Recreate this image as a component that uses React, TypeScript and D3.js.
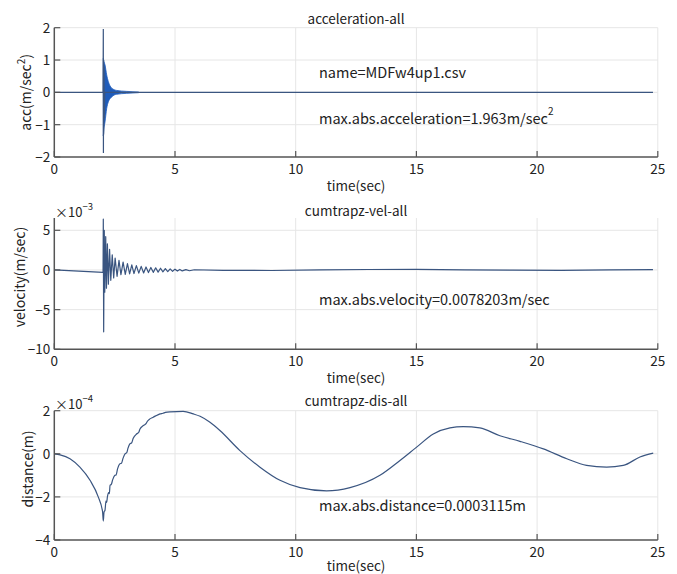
import React from "react";
import * as d3 from "d3";

// ---- data ----
const xTicks = [0, 5, 10, 15, 20, 25];

const accTicks = [-2, -1, 0, 1, 2];
// acceleration trace (m/sec^2): flat line plus the spike at ~2.03 s
const accTrace: [number, number][] = [
  [0, 0], [2.02, 0], [2.03, 1.96], [2.035, -1.88], [2.04, 1.0], [2.045, -1.3],
  [2.06, 0.8], [2.07, -0.8], [2.09, 0], [24.8, 0],
];
// envelope of the dense oscillation after the spike
const accUpper: [number, number][] = [
  [2.03, 1.05], [2.06, 0.95], [2.1, 0.85], [2.17, 0.54], [2.24, 0.33], [2.38, 0.13],
  [2.58, 0.06], [3.0, 0.03], [3.5, 0.01],
];
const accLower: [number, number][] = [
  [2.03, -1.35], [2.06, -1.1], [2.1, -0.92], [2.17, -0.5], [2.24, -0.29], [2.38, -0.14],
  [2.58, -0.06], [3.0, -0.03], [3.5, -0.01],
];

const velTicks = [-10, -5, 0, 5];
// velocity (x 1e-3 m/sec)
const velTrace: [number, number][] = [
  [0, 0], [2.02, -0.3], [2.03, 6.4], [2.045, -7.8], [2.07, 5.0], [2.09, -2.8],
  [2.13, 4.2], [2.16, -2.3], [2.2, 3.3], [2.24, -1.8], [2.29, 2.6], [2.34, -1.3],
  [2.4, 1.9], [2.46, -1.0], [2.52, 1.5], [2.6, -0.8], [2.68, 1.2], [2.76, -0.6],
  [2.85, 1.0], [2.94, -0.55], [3.03, 0.8], [3.12, -0.5], [3.21, 0.65], [3.3, -0.45],
  [3.4, 0.55], [3.5, -0.4], [3.6, 0.45], [3.7, -0.38], [3.8, 0.38], [3.9, -0.33],
  [4.0, 0.32], [4.1, -0.3], [4.2, 0.27], [4.3, -0.27], [4.4, 0.22], [4.5, -0.24],
  [4.6, 0.18], [4.7, -0.2], [4.8, 0.14], [4.9, -0.17], [5.0, 0.1], [5.1, -0.14],
  [5.2, 0.07], [5.3, -0.12], [5.45, 0.04], [5.6, -0.1], [5.8, 0.03], [7, -0.05],
  [9, -0.07], [11, 0], [13, 0.06], [15, 0.07], [17, 0], [19, -0.03], [21, -0.05],
  [23, 0], [24.8, 0.05],
];

const disTicks = [-4, -2, 0, 2];
// distance (x 1e-4 m)
const disTrace: [number, number][] = [
  [0, 0], [0.24, -0.05], [0.65, -0.23], [1.06, -0.62], [1.48, -1.23], [1.82, -2.0],
  [2.0, -2.69], [2.03, -3.12], [2.06, -2.7], [2.1, -2.62], [2.14, -2.2], [2.17, -2.25],
  [2.2, -2.0], [2.25, -1.8], [2.28, -1.85], [2.31, -1.46], [2.36, -1.42], [2.42, -1.2],
  [2.51, -1.0], [2.56, -0.98], [2.62, -0.7], [2.72, -0.46], [2.78, -0.44], [2.85, -0.2],
  [2.93, 0], [3.0, 0.05], [3.05, 0.25], [3.13, 0.46], [3.2, 0.5], [3.27, 0.72],
  [3.41, 0.92], [3.5, 1.0], [3.55, 1.15], [3.69, 1.31], [3.8, 1.4], [3.85, 1.5],
  [3.96, 1.62], [4.1, 1.7], [4.2, 1.76], [4.38, 1.85], [4.5, 1.88], [4.6, 1.92],
  [4.79, 1.95], [5.34, 1.97], [5.76, 1.85], [6.04, 1.74], [6.45, 1.46], [6.86, 1.08],
  [7.69, 0.15], [8.52, -0.62], [9.35, -1.23], [10.18, -1.57], [11.28, -1.72],
  [12.25, -1.57], [13.49, -1.0], [14.32, -0.31], [15.01, 0.31], [15.7, 0.92],
  [16.39, 1.2], [16.94, 1.26], [17.63, 1.2], [18.46, 0.84], [19.29, 0.58],
  [20.26, 0.23], [21.23, -0.23], [22.05, -0.54], [22.88, -0.62], [23.57, -0.54],
  [24.26, -0.15], [24.81, 0.03],
];

const titles = ["acceleration-all", "cumtrapz-vel-all", "cumtrapz-dis-all"];
const yLabels = ["acc(m/sec", "velocity(m/sec)", "distance(m)"];
const xLabel = "time(sec)";
const fileNote = "name=MDFw4up1.csv";
const accNote = "max.abs.acceleration=1.963m/sec";
const velNote = "max.abs.velocity=0.0078203m/sec";
const disNote = "max.abs.distance=0.0003115m";

// ---- styles ----
const FONT = "'Noto Sans CJK JP', 'Liberation Sans', sans-serif";
const AXIS = "#555";
const GRID = "#e6e6e6";
const LINE = "#3a5580";
const BAND = "#1f5cba";
const TXT = "#222";

const X0 = 54.3, X1 = 657.8;
const x = d3.scaleLinear().domain([0, 25]).range([X0, X1]);

type PanelProps = {
  top: number; bottom: number; domain: [number, number]; ticks: number[];
  children?: React.ReactNode;
};

function Frame({ top, bottom, domain, ticks, children }: PanelProps) {
  const y = d3.scaleLinear().domain(domain).range([bottom, top]);
  return (
    <g>
      {xTicks.filter((t) => t > 0).map((t) => (
        <line key={"gx" + t} x1={x(t)} x2={x(t)} y1={top} y2={bottom} stroke={GRID} strokeWidth={1} />
      ))}
      {ticks.filter((t) => t > domain[0]).map((t) => (
        <line key={"gy" + t} x1={X0} x2={X1} y1={y(t)} y2={y(t)} stroke={GRID} strokeWidth={1} />
      ))}
      {children}
      <line x1={X0} x2={X0} y1={top} y2={bottom} stroke={AXIS} strokeWidth={1.5} />
      <line x1={X0} x2={X1} y1={bottom} y2={bottom} stroke={AXIS} strokeWidth={1.5} />
      {xTicks.map((t) => (
        <g key={"tx" + t}>
          <line x1={x(t)} x2={x(t)} y1={bottom} y2={bottom - 6} stroke={AXIS} strokeWidth={1.2} />
          <text x={x(t)} y={bottom + 16.5} textAnchor="middle" fontSize={13.5} fill={TXT} fontFamily={FONT}>
            {t}
          </text>
        </g>
      ))}
      {ticks.map((t) => (
        <g key={"ty" + t}>
          <line x1={X0} x2={X0 + 6} y1={y(t)} y2={y(t)} stroke={AXIS} strokeWidth={1.2} />
          <text x={X0 - 4} y={y(t) + 5} textAnchor="end" fontSize={13.5} fill={TXT} fontFamily={FONT}>
            {t < 0 ? "\u2212" + Math.abs(t) : t}
          </text>
        </g>
      ))}
    </g>
  );
}

export default function App() {
  const p1 = { top: 27.7, bottom: 157, domain: [-2, 2] as [number, number] };
  const p2 = { top: 218, bottom: 349.3, domain: [-10, 6.55] as [number, number] };
  const p3 = { top: 410.7, bottom: 540, domain: [-4, 2] as [number, number] };

  const y1 = d3.scaleLinear().domain(p1.domain).range([p1.bottom, p1.top]);
  const y2 = d3.scaleLinear().domain(p2.domain).range([p2.bottom, p2.top]);
  const y3 = d3.scaleLinear().domain(p3.domain).range([p3.bottom, p3.top]);

  const accLine = d3.line<[number, number]>().x((d) => x(d[0])).y((d) => y1(d[1]));
  const bandArea = d3
    .area<[number, number]>()
    .x((d) => x(d[0]))
    .y0((d, i) => y1(accLower[i][1]))
    .y1((d) => y1(d[1]))
    .curve(d3.curveMonotoneX);
  const velLine = d3.line<[number, number]>().x((d) => x(d[0])).y((d) => y2(d[1]));
  const disLine = d3
    .line<[number, number]>()
    .x((d) => x(d[0]))
    .y((d) => y3(d[1]))
    .curve(d3.curveMonotoneX);

  const cx = (X0 + X1) / 2;

  return (
    <svg
      width={677}
      height={574}
      style={{ position: "absolute", left: 0, top: 0, background: "#fff" }}
      fontFamily={FONT}
    >
      <rect x={0} y={0} width={677} height={574} fill="#fff" />

      {/* Panel 1: acceleration */}
      <Frame top={p1.top} bottom={p1.bottom} domain={p1.domain} ticks={accTicks}>
        <path d={bandArea(accUpper) || ""} fill={BAND} stroke={BAND} strokeWidth={0.8} />
        <path d={accLine(accTrace) || ""} fill="none" stroke={LINE} strokeWidth={1.2} />
      </Frame>
      <text x={cx} y={24} textAnchor="middle" fontSize={13.5} fill={TXT}>{titles[0]}</text>
      <text x={cx} y={191} textAnchor="middle" fontSize={13.5} fill={TXT}>{xLabel}</text>
      <text transform={`translate(31,${(p1.top + p1.bottom) / 2}) rotate(-90)`} textAnchor="middle" fontSize={14} fill={TXT}>
        {yLabels[0]}
        <tspan dy={-6} fontSize={10}>2</tspan>
        <tspan dy={6}>)</tspan>
      </text>
      <text x={319} y={78} fontSize={14.5} fill={TXT}>{fileNote}</text>
      <text x={319} y={124} fontSize={14.5} fill={TXT}>
        {accNote}
        <tspan dy={-9} fontSize={10}>2</tspan>
      </text>

      {/* Panel 2: velocity */}
      <Frame top={p2.top} bottom={p2.bottom} domain={p2.domain} ticks={velTicks}>
        <path d={velLine(velTrace) || ""} fill="none" stroke={LINE} strokeWidth={1.2} strokeLinejoin="round" />
      </Frame>
      <text x={55} y={217} fontSize={13} fill={TXT}>
        {"\u00d710"}
        <tspan dy={-7} fontSize={9.5}>{"\u22123"}</tspan>
      </text>
      <text x={cx} y={215.5} textAnchor="middle" fontSize={13.5} fill={TXT}>{titles[1]}</text>
      <text x={cx} y={383} textAnchor="middle" fontSize={13.5} fill={TXT}>{xLabel}</text>
      <text transform={`translate(25,277) rotate(-90)`} textAnchor="middle" fontSize={14} fill={TXT}>
        {yLabels[1]}
      </text>
      <text x={319} y={305} fontSize={14.5} fill={TXT}>{velNote}</text>

      {/* Panel 3: distance */}
      <Frame top={p3.top} bottom={p3.bottom} domain={p3.domain} ticks={disTicks}>
        <path d={disLine(disTrace) || ""} fill="none" stroke={LINE} strokeWidth={1.2} strokeLinejoin="round" />
      </Frame>
      <text x={55} y={409} fontSize={13} fill={TXT}>
        {"\u00d710"}
        <tspan dy={-7} fontSize={9.5}>{"\u22124"}</tspan>
      </text>
      <text x={cx} y={406} textAnchor="middle" fontSize={13.5} fill={TXT}>{titles[2]}</text>
      <text x={cx} y={571} textAnchor="middle" fontSize={13.5} fill={TXT}>{xLabel}</text>
      <text transform={`translate(33,469) rotate(-90)`} textAnchor="middle" fontSize={14} fill={TXT}>
        {yLabels[2]}
      </text>
      <text x={319} y={511} fontSize={14.5} fill={TXT}>{disNote}</text>
    </svg>
  );
}
